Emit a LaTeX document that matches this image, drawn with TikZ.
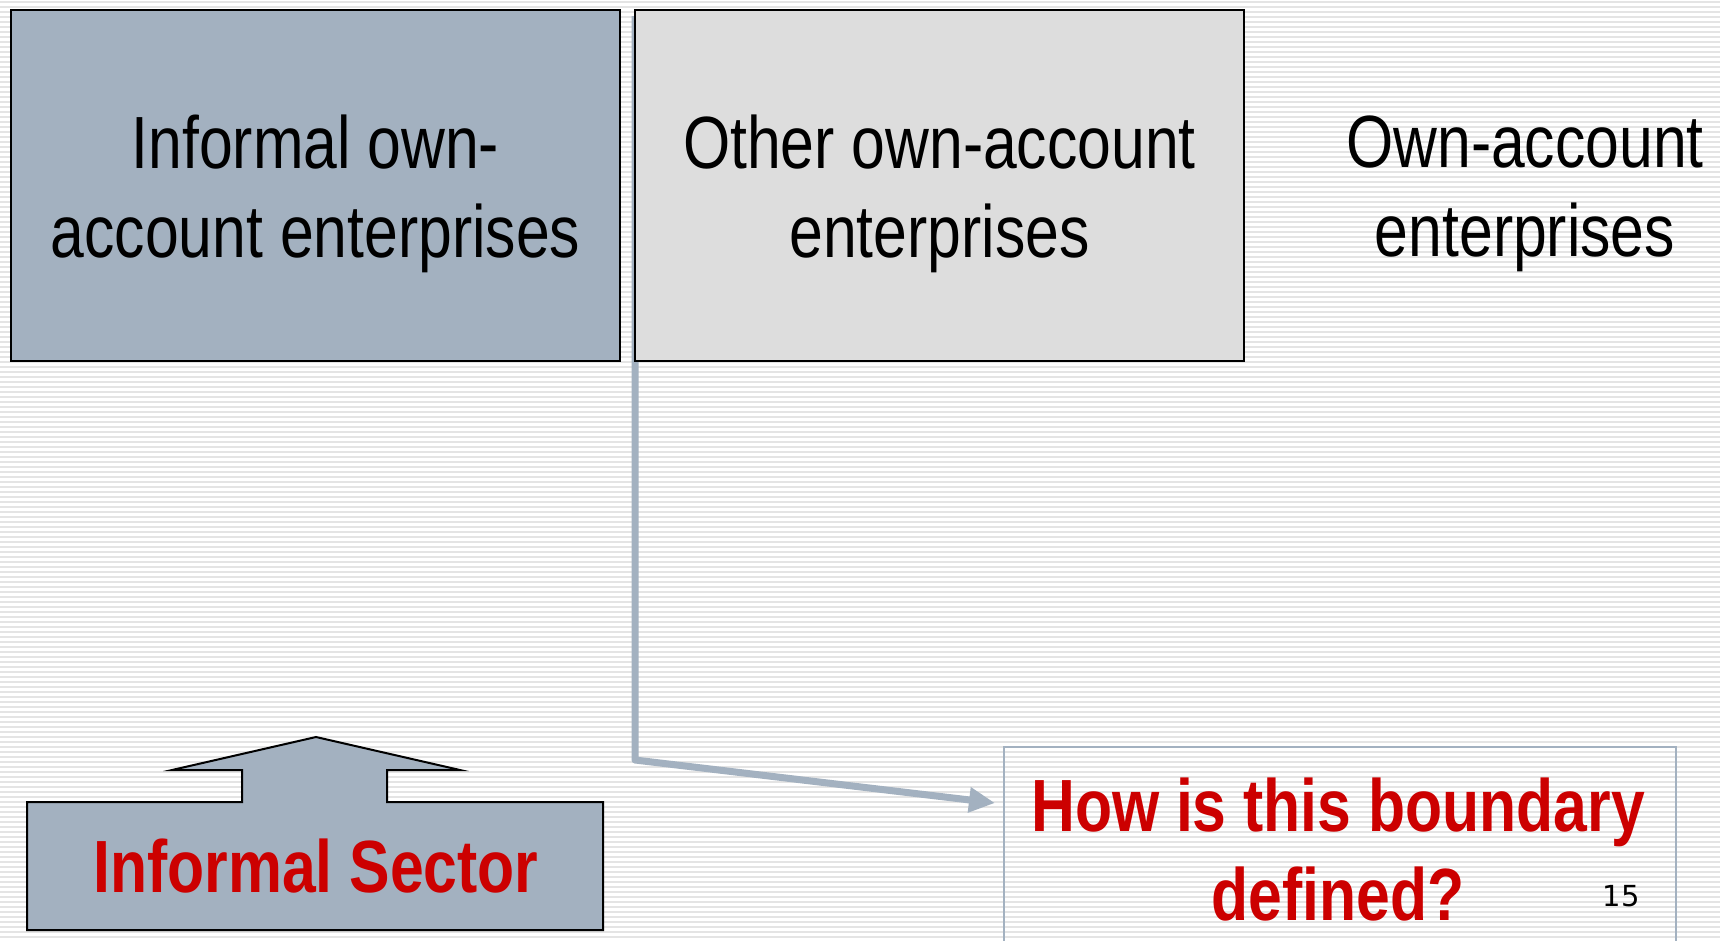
\documentclass[tikz,border=0pt]{standalone}
\usepackage{fontspec}
\setmainfont{Liberation Sans}[FakeStretch=0.82]
\newfontfamily\numfont{DejaVu Sans}
\usetikzlibrary{arrows.meta}
\definecolor{steel}{HTML}{A3B1C0}
\definecolor{lightbox}{HTML}{DDDDDD}
\definecolor{qred}{HTML}{CC0000}
\definecolor{stripecol}{HTML}{E4E4E4}
\tikzset{
  stripe/.style={fill=stripecol},
  catbox/.style={draw=black, line width=2pt, minimum width=609pt, minimum height=351pt, align=center, inner sep=0pt},
  boxtext/.style={align=center, inner sep=0pt, font=\fontsize{74}{89}\selectfont},
  redtext/.style={align=center, inner sep=0pt, text=qred, font=\fontsize{74}{89}\selectfont\bfseries},
  conn/.style={draw=steel, line width=7pt, line join=round, -{Triangle[length=26pt,width=24pt]}},
  qboxstyle/.style={draw=steel, line width=1.5pt, minimum width=672pt, minimum height=210pt, inner sep=0pt},
  blockarrow/.style={fill=steel, draw=black, line width=2pt, line join=miter}
}
\begin{document}
\begin{tikzpicture}[x=1pt,y=-1pt]
\useasboundingbox (0,0) rectangle (1720,940);
\clip (0,0) rectangle (1720,940);
\fill[white] (0,0) rectangle (1720,940);
\foreach \i in {0,...,188} \fill[stripe] (0,\i*5+1) rectangle (1720,\i*5+3);

% connector (behind boxes)
\coordinate (ctop) at (635,16);
\coordinate (cbend) at (635,760);
\coordinate (tip) at (995,803);
\draw[conn] (ctop) -- (cbend) -- (tip);

% top boxes
\node[catbox, fill=steel] (b1) at (315.5,185) {};
\node[boxtext] (b1t) at (315.5,194) {Informal own-\\account enterprises};
\node[catbox, fill=lightbox] (b2) at (939.5,185) {};
\node[boxtext] (b2t) at (939.5,194) {Other own-account\\enterprises};
\node[boxtext] (own) at (1525,194) {Own-account\\enterprises};

% question box
\node[qboxstyle, anchor=north west] (qbox) at (1003,746) {};
\node[redtext] (qtext) at (1338,850) {How is this boundary\\defined?};
\node[inner sep=0pt, font=\numfont\fontsize{29}{34}\selectfont] (pnum) at (1621,896) {15};

% block arrow
\draw[blockarrow] (27,930) -- (27,802) -- (242,802) -- (242,770) -- (172,770) -- (316,737)
  -- (460,770) -- (387,770) -- (387,802) -- (603,802) -- (603,930) -- cycle;
\node[redtext] (sector) at (316,866) {Informal Sector};
\end{tikzpicture}
\end{document}
